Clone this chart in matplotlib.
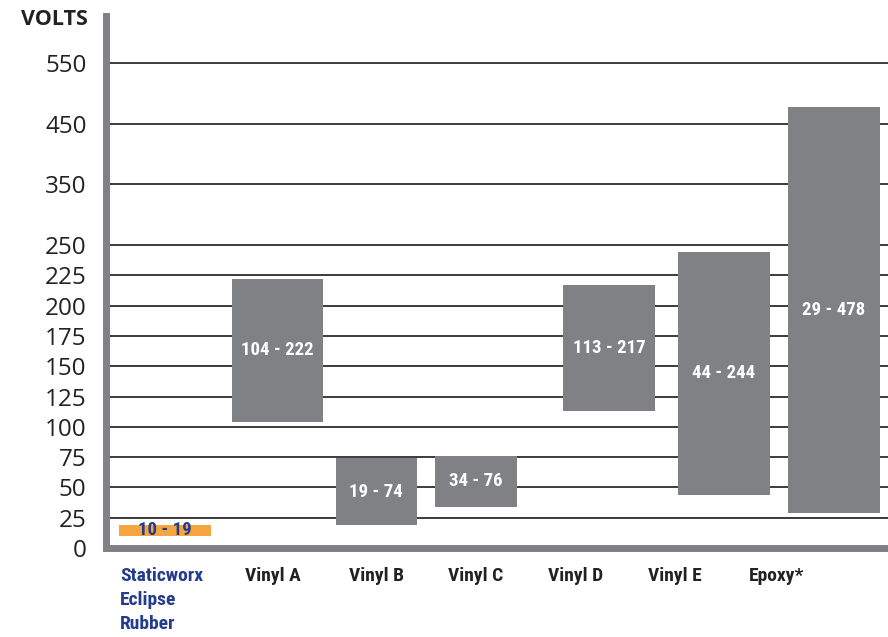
import numpy as np
import matplotlib
matplotlib.use('Agg')
import matplotlib.pyplot as plt

plt.rcParams['font.family'] = ['Open Sans', 'DejaVu Sans']

# data
categories = ['Staticworx\nEclipse\nRubber', 'Vinyl A', 'Vinyl B', 'Vinyl C', 'Vinyl D', 'Vinyl E', 'Epoxy*']
low = [10, 104, 19, 34, 113, 44, 29]
high = [19, 222, 74, 76, 217, 244, 478]
y_ticks = [0, 25, 50, 75, 100, 125, 150, 175, 200, 225, 250, 350, 450, 550]

# layout (pixel-like x units)
bar_x = [165, 277, 376, 476, 609, 724, 834]
bar_w = [92, 91, 81, 82, 92, 92, 92]
label_x = [120, 273, 376, 476, 576, 675, 777]

GRAY = '#808185'
ORANGE = '#f7a541'
BLUE = '#233c8c'
COND = ['Roboto Condensed', 'Liberation Sans Narrow', 'DejaVu Sans Condensed', 'Open Sans']


def fwd(y):
    y = np.asarray(y, dtype=float)
    return np.where(y <= 250, y, 250 + (y - 250) / 2)


def inv(t):
    t = np.asarray(t, dtype=float)
    return np.where(t <= 250, t, 250 + (t - 250) * 2)


fig = plt.figure(figsize=(8.88, 6.37), dpi=100)
ax = fig.add_axes([106 / 888, (637 - 548) / 637, 1 - 106 / 888, (548 - 16) / 637])
ax.set_yscale('function', functions=(fwd, inv))
ax.set_xlim(106, 888)
ax.set_ylim(0, inv(439))

for t in y_ticks[1:]:
    ax.axhline(t, color='#1a1a1a', lw=1.2, zorder=1)

for i in range(len(categories)):
    color = ORANGE if i == 0 else GRAY
    ax.bar(bar_x[i], high[i] - low[i], bottom=low[i], width=bar_w[i], color=color, zorder=2)
    mid = float(inv((fwd(low[i]) + fwd(high[i])) / 2))
    ax.text(bar_x[i], mid, f'{low[i]} - {high[i]}', ha='center', va='center',
            color=BLUE if i == 0 else 'white', fontsize=13.5, fontweight='bold',
            family=COND, zorder=3)

for s in ['top', 'right']:
    ax.spines[s].set_visible(False)
ax.spines['left'].set_color(GRAY)
ax.spines['left'].set_linewidth(5)
ax.spines['bottom'].set_color(GRAY)
ax.spines['bottom'].set_linewidth(5)
ax.spines['left'].set_zorder(4)
ax.spines['bottom'].set_zorder(4)

ax.set_yticks(y_ticks)
ax.set_yticklabels([str(t) for t in y_ticks], fontsize=17.5, color='#222222')
ax.tick_params(axis='y', length=0, pad=14)
ax.set_xticks([])

for i, name in enumerate(categories):
    if i == 0:
        ax.text(label_x[i], -0.035, name, transform=ax.get_xaxis_transform(), ha='left', va='top',
                fontsize=14, fontweight='bold', color=BLUE, family=COND, linespacing=1.45)
    else:
        ax.text(label_x[i], -0.035, name, transform=ax.get_xaxis_transform(), ha='center', va='top',
                fontsize=14, fontweight='bold', color='#222222', family=COND)

fig.text(88 / 888, 1 - 9 / 637, 'VOLTS', ha='right', va='top', fontsize=15.5,
         fontweight='bold', color='#222222')

fig.savefig('out.png', dpi=100)
